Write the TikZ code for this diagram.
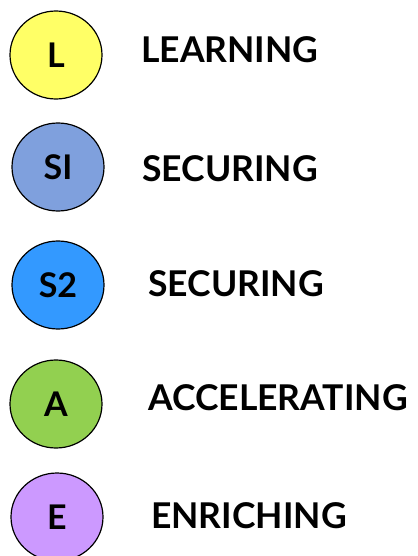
\documentclass[tikz,border=0pt]{standalone}
\usepackage{fontspec}
\setmainfont{Lato}
\usetikzlibrary{shapes.geometric}
\definecolor{learnYellow}{HTML}{FFFF66}
\definecolor{secureOne}{HTML}{7FA0DD}
\definecolor{secureTwo}{HTML}{3399FF}
\definecolor{accelGreen}{HTML}{92D050}
\definecolor{enrichPurple}{HTML}{CC99FF}
\begin{document}
\begin{tikzpicture}[x=1pt, y=-1pt,
    levelStyle/.style={ellipse, draw, line width=1.2pt, minimum width=92pt, minimum height=88pt, inner sep=0pt, font=\bfseries\fontsize{34}{34}\selectfont},
    labelStyle/.style={anchor=base west, inner sep=0pt, font=\bfseries\fontsize{35.5}{36}\selectfont}]
    \useasboundingbox (0,0) rectangle (417,556);
    \node[levelStyle, fill=learnYellow](lev1) at (56, 55) {L};
    \node[levelStyle, fill=secureOne](lev2) at (58, 167) {SI};
    \node[levelStyle, fill=secureTwo](lev3) at (58, 285) {S2};
    \node[levelStyle, fill=accelGreen](lev4) at (56, 404) {A};
    \node[levelStyle, fill=enrichPurple](lev5) at (57, 517) {E};

    \node[labelStyle](txt1) at (141, 63) {LEARNING};
    \node[labelStyle](txt2) at (142, 182) {SECURING};
    \node[labelStyle](txt3) at (148, 296) {SECURING};
    \node[labelStyle](txt4) at (148, 410) {ACCELERATING};
    \node[labelStyle](txt5) at (151, 528) {ENRICHING};
\end{tikzpicture}
\end{document}
